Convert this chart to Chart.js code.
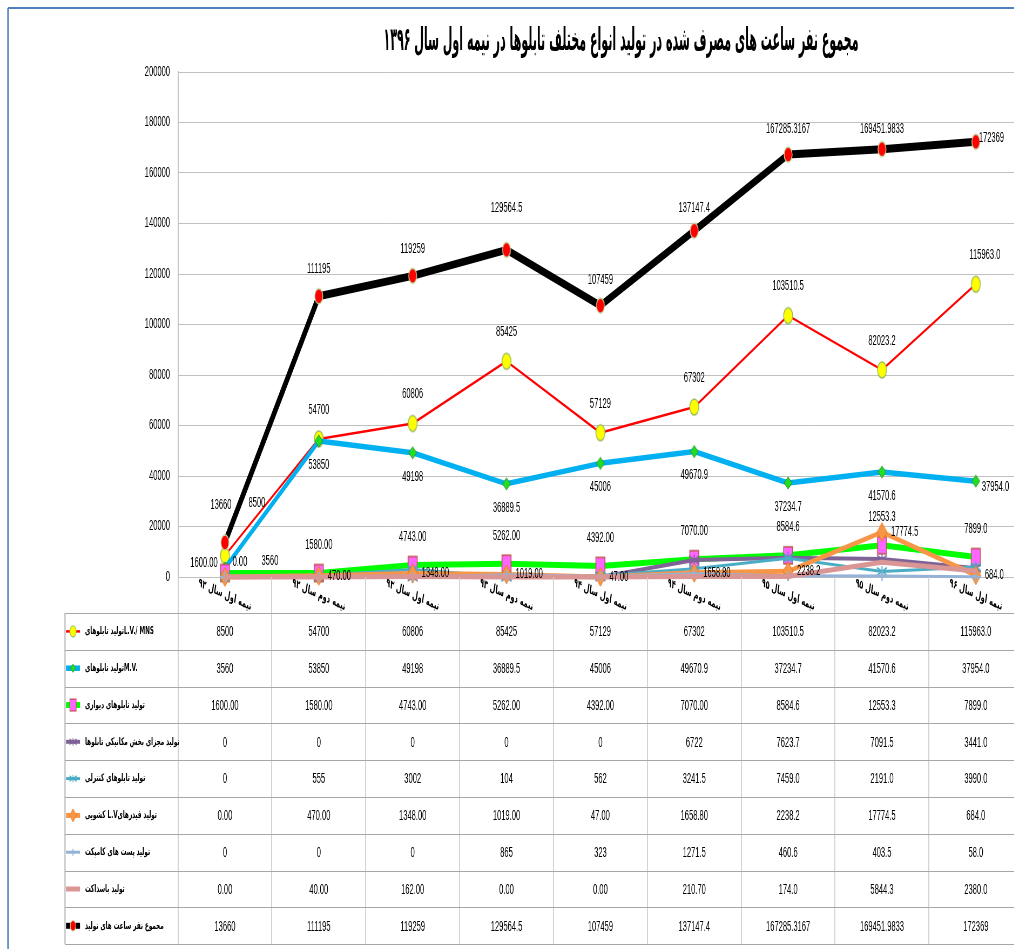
<!DOCTYPE html>
<html><head><meta charset="utf-8">
<script src="https://cdn.jsdelivr.net/npm/chart.js@4.4.1/dist/chart.umd.min.js"></script>
<style>
html,body{margin:0;padding:0;overflow:hidden;background:#fff;width:1014px;height:949px}
#wrap{position:absolute;left:0;top:0;transform-origin:0 0;transform:scaleX(0.54)}
</style></head><body>
<div id="wrap"><canvas id="c"></canvas></div>
<script>
// ---------------- DATA ----------------
const categories = ['نیمه اول سال ۹۲','نیمه دوم سال ۹۲','نیمه اول سال ۹۳','نیمه دوم سال ۹۳','نیمه اول سال ۹۴','نیمه دوم سال ۹۴','نیمه اول سال ۹۵','نیمه دوم سال ۹۵','نیمه اول سال ۹۶'];
const lvMns   = [8500, 54700, 60806, 85425, 57129, 67302, 103510.5, 82023.2, 115963.0];
const mv      = [3560, 53850, 49198, 36889.5, 45006, 49670.9, 37234.7, 41570.6, 37954.0];
const wall    = [1600, 1580, 4743, 5262, 4392, 7070, 8584.6, 12553.3, 7899.0];
const mech    = [0, 0, 0, 0, 0, 6722, 7623.7, 7091.5, 3441.0];
const control = [0, 555, 3002, 104, 562, 3241.5, 7459.0, 2191.0, 3990.0];
const feeders = [0, 470, 1348, 1019, 47, 1658.8, 2238.2, 17774.5, 684.0];
const compact = [0, 0, 0, 865, 323, 1271.5, 460.6, 403.5, 58.0];
const busduct = [0, 40, 162, 0, 0, 210.7, 174.0, 5844.3, 2380.0];
const total   = [13660, 111195, 119259, 129564.5, 107459, 137147.4, 167285.3167, 169451.9833, 172369];
const yMin = 0, yMax = 200000, yStep = 20000;
const titleText = 'مجموع نفر ساعت های مصرف شده در تولید انواع مختلف تابلوها در نیمه اول سال ۱۳۹۶';
const seriesNames = [
  'تولید تابلوهایL.V./ MNS',
  'تولید تابلوهایM.V.',
  'تولید تابلوهای دیواری',
  'تولید مجزای بخش مکانیکی تابلوها',
  'تولید تابلوهای کنترلی',
  'کشویی L.Vتولید فیدرهای',
  'تولید پست های کامپکت',
  'تولید باسداکت',
  'مجموع نفر ساعت های تولید'
];

// ---------------- STYLE / LAYOUT ----------------
const S = 0.54;                 // horizontal squash of the whole picture
const X = v => v / S;           // page px -> canvas px (horizontal)
const PAGE_W = 1030, H = 949;
const CW = Math.round(PAGE_W / S);
const NUMF = '"Liberation Sans", Arial, sans-serif';
const ARF = '"DejaVu Sans", sans-serif';
const FORMAT_SPLIT = 6;

const MARKERS = {
  ellipseYellow: {shape:'ellipse', w:9, h:16, fill:'#FFFF00', stroke:'#9BBB59', lw:1.5},
  ellipseRed:    {shape:'ellipse', w:8, h:15, fill:'#FF0000', stroke:'#C3D69B', lw:1.5},
  diamondGreen:  {shape:'diamond', w:8, h:12, fill:'#22DD22', stroke:'#2E8B2E', lw:1},
  rectMagenta:   {shape:'rect', w:9, h:17, fill:'#FF66FF', stroke:'#C0504D', lw:1.5},
  starPurple:    {shape:'star', w:10, h:11, stroke:'#7F6396', lw:2},
  starTeal:      {shape:'star', w:10, h:11, stroke:'#4BACC6', lw:2},
  diamondOrange: {shape:'diamond', w:10, h:19, fill:'#F79646', stroke:'#E46C0A', lw:1},
  plusBlue:      {shape:'plus', w:10, h:10, stroke:'#95B3D7', lw:2.5}
};

const series = [
  {name:seriesNames[0], data:lvMns, color:'#FF0000', width:2.5, marker:'ellipseYellow', fmt:['g',1],
   label:{mode:'center', dy:-29, over:{0:{dx:32,dy:-52}, 8:{dx:9}}}},
  {name:seriesNames[1], data:mv, color:'#00B0F0', width:5.5, marker:'diamondGreen', fmt:['g',1],
   label:{mode:'center', dy:24, over:{0:{dx:45,dy:-7}, 8:{mode:'right',dx:6,dy:6}}}},
  {name:seriesNames[2], data:wall, color:'#00FF00', width:6, marker:'rectMagenta', fmt:[2,1],
   label:{mode:'center', dy:-28, over:{0:{dx:-21,dy:-10}}}},
  {name:seriesNames[3], data:mech, color:'#7F6396', width:4, marker:'starPurple', fmt:['g',1]},
  {name:seriesNames[4], data:control, color:'#4BACC6', width:3, marker:'starTeal', fmt:['g',1]},
  {name:seriesNames[5], data:feeders, color:'#F79646', width:5, marker:'diamondOrange', fmt:[2,1],
   label:{mode:'right', dx:9, dy:0, over:{0:{mode:'center',dx:15,dy:-15}}}},
  {name:seriesNames[6], data:compact, color:'#95B3D7', width:3, marker:'plusBlue', fmt:['g',1]},
  {name:seriesNames[7], data:busduct, color:'#D99694', width:5, marker:null, fmt:[2,1]},
  {name:seriesNames[8], data:total, color:'#000000', width:8, marker:'ellipseRed', fmt:['g','g'],
   label:{mode:'center', dy:-26, over:{0:{dx:-4,dy:-37},1:{dy:-27},2:{dy:-27},3:{dy:-42},4:{dy:-26},5:{dy:-23},6:{dy:-25},7:{dy:-20},8:{mode:'right',dx:3,dy:-4}}}}
];

const TABLE = {left:65, top:613, rowH:36.8, bottom:944, keyX0:66, keyX1:80, textX:85, headerY:595, rot:14, keyScale:0.7};

function makeMarker(kind){
  if(!kind) return null;
  const sp = MARKERS[kind];
  const cw = Math.ceil(sp.w / S) + 6, ch = sp.h + 6;
  const c = document.createElement('canvas'); c.width = cw; c.height = ch;
  const g = c.getContext('2d');
  const cx = cw/2, cy = ch/2, rx = sp.w/2/S, ry = sp.h/2;
  g.lineWidth = sp.lw || 1; g.fillStyle = sp.fill || 'transparent'; g.strokeStyle = sp.stroke;
  g.beginPath();
  if(sp.shape === 'ellipse'){ g.ellipse(cx,cy,rx,ry,0,0,Math.PI*2); g.fill(); g.stroke(); }
  else if(sp.shape === 'diamond'){ g.moveTo(cx,cy-ry); g.lineTo(cx+rx,cy); g.lineTo(cx,cy+ry); g.lineTo(cx-rx,cy); g.closePath(); g.fill(); g.stroke(); }
  else if(sp.shape === 'rect'){ g.rect(cx-rx,cy-ry,2*rx,2*ry); g.fill(); g.stroke(); }
  else if(sp.shape === 'star'){ g.moveTo(cx,cy-ry); g.lineTo(cx,cy+ry); g.moveTo(cx-rx,cy-ry*0.7); g.lineTo(cx+rx,cy+ry*0.7); g.moveTo(cx-rx,cy+ry*0.7); g.lineTo(cx+rx,cy-ry*0.7); g.stroke(); }
  else if(sp.shape === 'plus'){ g.moveTo(cx,cy-ry); g.lineTo(cx,cy+ry); g.moveTo(cx-rx,cy); g.lineTo(cx+rx,cy); g.stroke(); }
  return c;
}
const markerImgs = series.map(s => makeMarker(s.marker));

function fmtVal(si, j){
  const v = series[si].data[j];
  const spec = series[si].fmt[j < FORMAT_SPLIT ? 0 : 1];
  return spec === 'g' ? String(v) : v.toFixed(spec);
}

// ---------------- PLUGINS ----------------
const labelPlugin = {id:'vlabels', afterDatasetsDraw(chart){
  const ctx = chart.ctx; ctx.save();
  ctx.font = '14px ' + NUMF; ctx.fillStyle = '#000'; ctx.textBaseline = 'middle';
  series.forEach((s,i) => {
    if(!s.label) return;
    const meta = chart.getDatasetMeta(i);
    meta.data.forEach((pt,j) => {
      const L = s.label, ov = (L.over && L.over[j]) || {};
      const mode = ov.mode || L.mode;
      const dx = ov.dx !== undefined ? ov.dx : (L.dx || 0);
      const dy = ov.dy !== undefined ? ov.dy : (L.dy || 0);
      ctx.textAlign = mode === 'right' ? 'left' : (mode === 'left' ? 'right' : 'center');
      ctx.fillText(fmtVal(i,j), pt.x + X(dx), pt.y + dy);
    });
  });
  ctx.restore();
}};

const decorPlugin = {id:'decor', afterDraw(chart){
  const ctx = chart.ctx, xs = chart.scales.x, area = chart.chartArea;
  const n = categories.length;
  const c0 = xs.getPixelForValue(0), step = xs.getPixelForValue(1) - c0;
  ctx.save();
  // frame
  ctx.strokeStyle = '#4F81BD';
  ctx.lineWidth = 2; ctx.beginPath(); ctx.moveTo(X(8), 8); ctx.lineTo(CW, 8); ctx.stroke();
  ctx.lineWidth = X(1.5); ctx.beginPath(); ctx.moveTo(X(8), 8); ctx.lineTo(X(8), H); ctx.stroke();
  // title
  ctx.fillStyle = '#000'; ctx.font = 'bold 32px ' + ARF; ctx.textAlign = 'center'; ctx.textBaseline = 'middle'; ctx.direction = 'rtl';
  const tw = ctx.measureText(titleText).width;
  ctx.save(); ctx.translate(X(621), 42); ctx.scale(X(475)/tw, 1); ctx.fillText(titleText, 0, 0); ctx.restore();
  ctx.direction = 'ltr';
  // table vertical lines
  ctx.strokeStyle = '#D0D0D0'; ctx.lineWidth = X(1);
  for(let k=0;k<=n;k++){
    const x = Math.round(c0 - step/2 + k*step);
    ctx.beginPath(); ctx.moveTo(x, area.bottom); ctx.lineTo(x, TABLE.bottom); ctx.stroke();
  }
  ctx.strokeStyle = '#A6A6A6';
  ctx.beginPath(); ctx.moveTo(X(TABLE.left), TABLE.top); ctx.lineTo(X(TABLE.left), TABLE.bottom); ctx.stroke();
  ctx.lineWidth = 1.2;
  for(let r=0;r<=series.length;r++){
    const y = Math.round(TABLE.top + r*TABLE.rowH) + 0.5;
    ctx.beginPath(); ctx.moveTo(X(TABLE.left), y); ctx.lineTo(CW, y); ctx.stroke();
  }
  // category labels
  ctx.fillStyle = '#000'; ctx.font = 'bold 12px ' + ARF; ctx.textAlign = 'center'; ctx.textBaseline = 'middle';
  categories.forEach((c,i) => {
    ctx.save(); ctx.translate(xs.getPixelForValue(i), TABLE.headerY); ctx.rotate(TABLE.rot*Math.PI/180);
    ctx.direction = 'rtl'; ctx.fillText(c, 0, 0); ctx.restore();
  });
  // rows
  series.forEach((s,r) => {
    const yMid = TABLE.top + (r+0.5)*TABLE.rowH;
    ctx.strokeStyle = s.color; ctx.lineWidth = Math.min(s.width, 6); ctx.lineCap = 'butt';
    ctx.beginPath(); ctx.moveTo(X(TABLE.keyX0), yMid); ctx.lineTo(X(TABLE.keyX1), yMid); ctx.stroke();
    const img = markerImgs[r];
    if(img){
      const w = img.width*TABLE.keyScale, h = img.height*TABLE.keyScale;
      ctx.drawImage(img, X((TABLE.keyX0+TABLE.keyX1)/2) - w/2, yMid - h/2, w, h);
    }
    ctx.fillStyle = '#000'; ctx.font = 'bold 10.5px ' + ARF; ctx.textAlign = 'left'; ctx.textBaseline = 'middle'; ctx.direction = 'ltr';
    ctx.fillText(s.name, X(TABLE.textX), yMid);
    ctx.font = '14px ' + NUMF; ctx.textAlign = 'center';
    s.data.forEach((v,j) => ctx.fillText(fmtVal(r,j), xs.getPixelForValue(j), yMid + 1));
  });
  ctx.restore();
}};

// ---------------- CHART ----------------
const canvas = document.getElementById('c');
canvas.width = CW; canvas.height = H;
new Chart(canvas, {
  type:'line',
  data:{
    labels:categories,
    datasets: series.map((s,i) => ({
      label:s.name, data:s.data, borderColor:s.color, backgroundColor:s.color,
      borderWidth:s.width, tension:0, fill:false, clip:false,
      borderJoinStyle:'round', borderCapStyle:'round',
      pointStyle: markerImgs[i] || 'circle', pointRadius: markerImgs[i] ? 5 : 0, pointHoverRadius: markerImgs[i] ? 5 : 0,
      order: series.length - i
    }))
  },
  options:{
    responsive:false, animation:false, devicePixelRatio:1, events:[],
    layout:{padding:{left:0, right:CW - X(1027), top:72, bottom:H - 577}},
    plugins:{legend:{display:false}, tooltip:{enabled:false}, title:{display:false}},
    scales:{
      x:{type:'category', offset:true, grid:{display:false, drawTicks:false}, border:{display:false}, ticks:{display:false},
         afterFit:sc => { sc.height = 0; }},
      y:{min:yMin, max:yMax,
         ticks:{stepSize:yStep, color:'#000', font:{family:NUMF, size:14}, padding:X(8), callback:v => String(v)},
         grid:{color:'#BFBFBF', lineWidth:1, drawTicks:false},
         border:{display:true, color:'#BFBFBF', width:X(1)},
         afterFit:sc => { sc.width = X(178); }}
    }
  },
  plugins:[labelPlugin, decorPlugin]
});
</script>
</body></html>
